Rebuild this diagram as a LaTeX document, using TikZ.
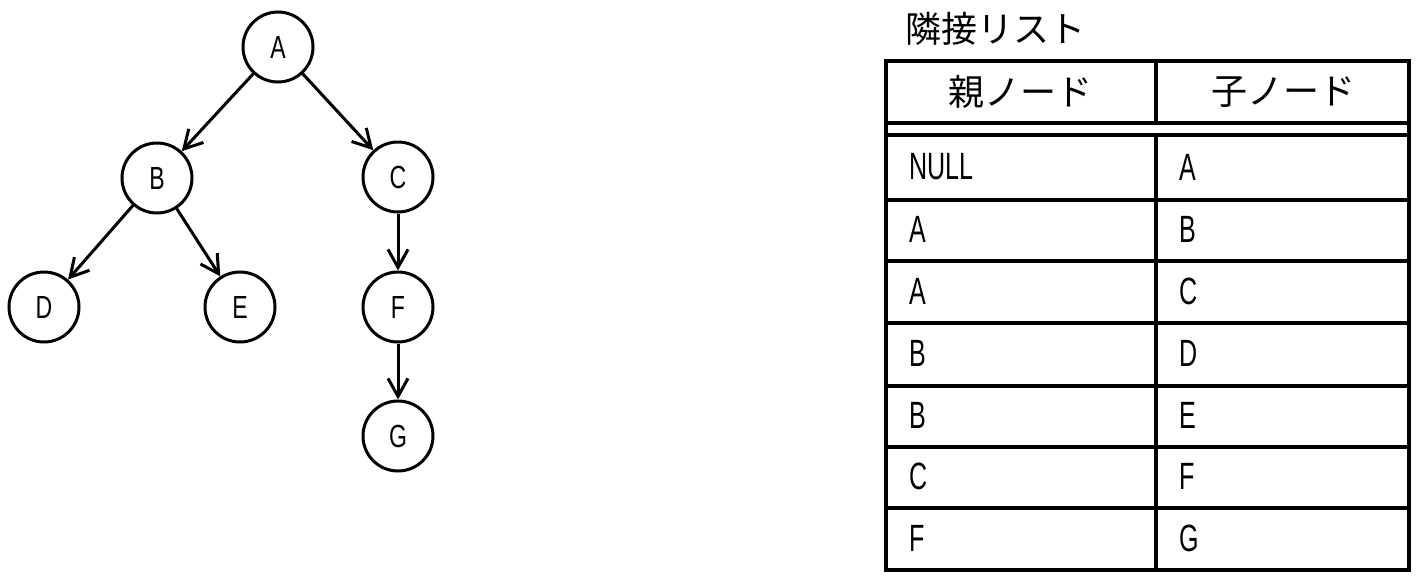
\documentclass[tikz,border=0pt]{standalone}
\usepackage{fontspec}
\setmainfont{Liberation Sans}
\newfontfamily\jpfont{Noto Sans CJK JP}
\usetikzlibrary{arrows.meta}
\newcommand\narrowtxt[2]{\scalebox{#1}[1]{#2}}
\begin{document}
\begin{tikzpicture}[x=1pt,y=-1pt,
  vertex/.style={circle,draw,line width=3pt,minimum size=70pt,inner sep=0pt,
    font=\fontsize{32}{32}\selectfont},
  edge/.style={line width=3pt,-{Straight Barb[length=18pt,width=20pt,line width=3pt]}},
  grid/.style={line width=3.5pt},
  cell/.style={anchor=west,inner sep=0pt,font=\fontsize{38}{38}\selectfont},
  jphead/.style={inner sep=0pt,font=\jpfont\fontsize{36}{36}\selectfont}]
\useasboundingbox (0,0) rectangle (1419,581);
% tree
\node[vertex] (A) at (278,47) {\narrowtxt{0.72}{A}};
\node[vertex] (B) at (157,178) {\narrowtxt{0.72}{B}};
\node[vertex] (C) at (398,177) {\narrowtxt{0.72}{C}};
\node[vertex] (D) at (44,307) {\narrowtxt{0.72}{D}};
\node[vertex] (E) at (240,307) {\narrowtxt{0.72}{E}};
\node[vertex] (F) at (398,307) {\narrowtxt{0.72}{F}};
\node[vertex] (G) at (398,436) {\narrowtxt{0.72}{G}};
\draw[edge] (A) -- (B);
\draw[edge] (A) -- (C);
\draw[edge] (B) -- (D);
\draw[edge] (B) -- (E);
\draw[edge] (C) -- (F);
\draw[edge] (F) -- (G);
% table
\node[jphead,anchor=west] (title) at (905,29) {隣接リスト};
\draw[grid] (886,61) rectangle (1409,570);
\draw[grid] (1156,61) -- (1156,123);
\draw[grid] (1156,135) -- (1156,570);
\draw[line width=4.5pt] (886,123) -- (1409,123);
\draw[line width=4.5pt] (886,135) -- (1409,135);
\foreach \yy in {200,261,323,386,447,508} \draw[grid] (886,\yy) -- (1409,\yy);
\node[jphead] (h1) at (1020,92) {親ノード};
\node[jphead] (h2) at (1283,92) {子ノード};
\node[cell] (p1) at (909,167) {\narrowtxt{0.66}{NULL}};
\node[cell] (c1) at (1179,167) {\narrowtxt{0.66}{A}};
\node[cell] (p2) at (909,229) {\narrowtxt{0.66}{A}};
\node[cell] (c2) at (1179,229) {\narrowtxt{0.66}{B}};
\node[cell] (p3) at (909,291) {\narrowtxt{0.66}{A}};
\node[cell] (c3) at (1179,291) {\narrowtxt{0.66}{C}};
\node[cell] (p4) at (909,353) {\narrowtxt{0.66}{B}};
\node[cell] (c4) at (1179,353) {\narrowtxt{0.66}{D}};
\node[cell] (p5) at (909,415) {\narrowtxt{0.66}{B}};
\node[cell] (c5) at (1179,415) {\narrowtxt{0.66}{E}};
\node[cell] (p6) at (909,476) {\narrowtxt{0.66}{C}};
\node[cell] (c6) at (1179,476) {\narrowtxt{0.66}{F}};
\node[cell] (p7) at (909,538) {\narrowtxt{0.66}{F}};
\node[cell] (c7) at (1179,538) {\narrowtxt{0.66}{G}};
\end{tikzpicture}
\end{document}
